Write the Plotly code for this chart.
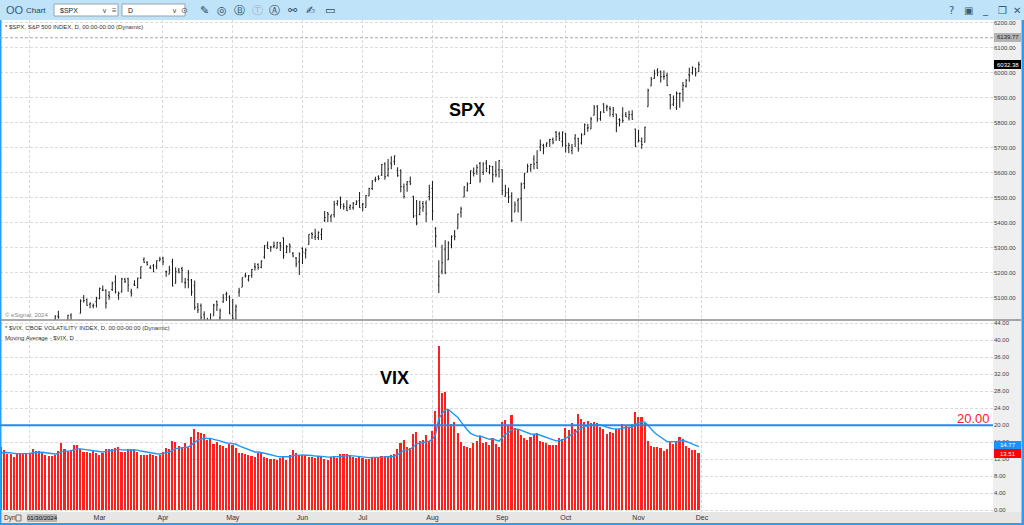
import pandas as pd
import plotly.graph_objects as go

# ---- data: S&P 500 daily bars and VIX closes, 17 Jan - 29 Nov 2024 ----
holidays = ["2024-02-19", "2024-03-29", "2024-05-27", "2024-06-19",
            "2024-07-04", "2024-09-02", "2024-11-28"]
days = pd.bdate_range("2024-01-17", "2024-11-29")
days = days[~days.isin(pd.to_datetime(holidays))]
dates = days.strftime("%Y-%m-%d").tolist()

spx_open = [
    4739, 4760, 4797, 4853, 4856, 4888, 4886, 4888, 4892, 4925, 4899,
    4861, 4916, 4957, 4951, 4974, 4995, 5004, 5026, 4967, 4976, 5004, 5031, 4989, 4963, 5038, 5100, 5093, 5074, 5068, 5085,
    5098, 5131, 5130, 5109, 5133, 5164, 5111, 5124, 5174, 5176, 5124, 5154, 5140, 5181, 5253, 5242, 5220, 5228, 5226, 5248,
    5257, 5204, 5194, 5244, 5158, 5211, 5217, 5160, 5172, 5171, 5149, 5064, 5068, 5032, 5005, 4988, 5028, 5085, 5020, 5084, 5114, 5103,
    5029, 5050, 5122, 5142, 5187, 5172, 5189, 5225, 5233, 5222, 5263, 5310, 5303, 5305, 5298, 5319, 5340, 5281, 5315, 5278, 5259, 5244,
    5297, 5278, 5314, 5357, 5343, 5341, 5353, 5409, 5441, 5424, 5432, 5477, 5499, 5466, 5459, 5461, 5460, 5473, 5488,
    5471, 5461, 5507, 5537, 5572, 5584, 5591, 5635, 5590, 5638, 5644, 5610, 5609, 5543, 5554, 5565, 5505, 5428, 5433, 5477, 5479, 5505,
    5537, 5376, 5151, 5206, 5294, 5252, 5312, 5351, 5376, 5442, 5503, 5530, 5557, 5603, 5606, 5637, 5602, 5639, 5602, 5624, 5607, 5612,
    5612, 5506, 5520, 5507, 5443, 5490, 5496, 5557, 5603, 5615, 5655, 5641, 5703, 5709, 5711, 5727, 5733, 5762, 5755, 5726,
    5757, 5699, 5689, 5738, 5738, 5719, 5752, 5778, 5775, 5830, 5866, 5816, 5875, 5860, 5857, 5833, 5835, 5813, 5827, 5833, 5819, 5832, 5775,
    5723, 5725, 5722, 5864, 5947, 5977, 6008, 6004, 5985, 5989, 5912, 5874, 5860, 5917, 5933, 5946, 5992, 6000, 6015, 6004,
]
spx_high = [
    4744, 4785, 4842, 4868, 4866, 4903, 4898, 4906, 4929, 4932, 4907,
    4907, 4975, 4965, 4964, 4999, 5000, 5030, 5048, 4971, 5002, 5032, 5038, 4993, 4983, 5094, 5111, 5097, 5081, 5077, 5104,
    5141, 5149, 5134, 5127, 5165, 5190, 5125, 5180, 5180, 5180, 5136, 5170, 5180, 5225, 5262, 5246, 5230, 5235, 5249, 5264,
    5264, 5208, 5228, 5256, 5222, 5219, 5224, 5179, 5211, 5175, 5169, 5079, 5077, 5046, 5020, 5038, 5076, 5089, 5057, 5115, 5124, 5110,
    5096, 5073, 5140, 5181, 5200, 5191, 5215, 5239, 5238, 5250, 5311, 5325, 5306, 5325, 5324, 5323, 5341, 5311, 5316, 5283, 5263, 5281,
    5302, 5298, 5354, 5362, 5376, 5366, 5376, 5447, 5442, 5432, 5488, 5490, 5505, 5478, 5490, 5473, 5483, 5490, 5523,
    5479, 5510, 5540, 5570, 5584, 5590, 5635, 5642, 5655, 5666, 5669, 5622, 5614, 5557, 5566, 5585, 5508, 5491, 5488, 5487, 5489, 5552,
    5567, 5383, 5250, 5312, 5330, 5326, 5350, 5371, 5436, 5464, 5546, 5562, 5609, 5621, 5633, 5643, 5642, 5651, 5631, 5628, 5646, 5651,
    5614, 5552, 5540, 5522, 5485, 5497, 5561, 5600, 5636, 5636, 5670, 5690, 5733, 5716, 5722, 5736, 5741, 5767, 5764, 5765,
    5758, 5720, 5715, 5753, 5739, 5758, 5797, 5796, 5823, 5871, 5870, 5846, 5878, 5872, 5866, 5863, 5835, 5818, 5862, 5843, 5848, 5850, 5776,
    5772, 5741, 5784, 5936, 5983, 6012, 6018, 6009, 6009, 6000, 5915, 5909, 5925, 5921, 5963, 5975, 6020, 6025, 6020, 6044,
]
spx_low = [
    4714, 4740, 4785, 4844, 4844, 4865, 4869, 4881, 4887, 4917, 4845,
    4853, 4907, 4918, 4939, 4969, 4988, 4999, 5016, 4920, 4956, 4999, 4999, 4955, 4946, 5038, 5081, 5069, 5058, 5058, 5061,
    5094, 5127, 5057, 5092, 5127, 5117, 5092, 5121, 5159, 5124, 5105, 5147, 5138, 5175, 5240, 5229, 5215, 5203, 5214, 5246,
    5230, 5184, 5194, 5146, 5157, 5198, 5160, 5138, 5138, 5108, 5052, 5039, 5007, 4998, 4953, 4970, 5028, 5047, 5002, 5080, 5087, 5035,
    5013, 5011, 5104, 5143, 5181, 5165, 5180, 5209, 5212, 5218, 5256, 5296, 5284, 5298, 5297, 5287, 5256, 5278, 5280, 5262, 5223, 5191,
    5235, 5257, 5312, 5335, 5331, 5331, 5331, 5403, 5403, 5403, 5421, 5468, 5456, 5452, 5447, 5451, 5452, 5471, 5460,
    5446, 5461, 5507, 5531, 5563, 5570, 5587, 5572, 5584, 5614, 5631, 5584, 5522, 5497, 5524, 5551, 5419, 5390, 5430, 5444, 5403, 5489,
    5410, 5302, 5119, 5194, 5195, 5251, 5298, 5330, 5376, 5421, 5502, 5525, 5555, 5585, 5592, 5560, 5591, 5603, 5594, 5561, 5583, 5581,
    5511, 5504, 5479, 5403, 5443, 5441, 5406, 5535, 5601, 5604, 5614, 5616, 5686, 5674, 5703, 5703, 5714, 5727, 5727, 5704,
    5681, 5678, 5674, 5703, 5684, 5713, 5751, 5764, 5775, 5830, 5804, 5808, 5840, 5846, 5825, 5822, 5762, 5785, 5800, 5823, 5809, 5812, 5703,
    5723, 5696, 5722, 5864, 5947, 5976, 5986, 5961, 5972, 5946, 5853, 5866, 5851, 5860, 5884, 5941, 5964, 5992, 5985, 6003,
]
spx_close = [
    4739.2, 4780.9, 4839.8, 4850.4, 4864.6, 4868.6, 4894.2, 4891.0, 4927.9, 4925.0, 4845.7,
    4906.2, 4958.6, 4942.8, 4954.2, 4995.1, 4997.9, 5026.6, 5021.8, 4953.2, 5000.6, 5029.7, 5005.6, 4975.5, 4981.8, 5087.0, 5088.8, 5069.5, 5078.2, 5069.8, 5096.3,
    5137.1, 5131.0, 5078.7, 5104.8, 5157.4, 5123.7, 5117.9, 5175.3, 5165.3, 5150.5, 5117.1, 5149.4, 5178.5, 5224.6, 5241.5, 5234.2, 5218.2, 5203.6, 5248.5, 5254.4,
    5243.8, 5205.8, 5211.5, 5147.2, 5204.3, 5202.4, 5209.9, 5160.6, 5199.1, 5123.4, 5061.8, 5051.4, 5022.2, 5011.1, 4967.2, 5010.6, 5070.6, 5071.6, 5048.4, 5100.0, 5116.2, 5035.7,
    5018.4, 5064.2, 5127.8, 5180.7, 5187.7, 5187.7, 5214.1, 5222.7, 5221.4, 5246.7, 5308.2, 5297.1, 5303.3, 5308.1, 5321.4, 5307.0, 5267.8, 5304.7, 5306.0, 5267.0, 5235.5, 5277.5,
    5283.4, 5291.3, 5354.0, 5353.0, 5347.0, 5360.8, 5375.3, 5421.0, 5433.7, 5431.6, 5473.2, 5487.0, 5473.2, 5464.6, 5447.9, 5469.3, 5477.9, 5482.9, 5460.5,
    5475.1, 5509.0, 5537.0, 5567.2, 5572.9, 5577.0, 5633.9, 5584.5, 5615.4, 5631.2, 5667.2, 5588.3, 5544.6, 5505.0, 5564.4, 5555.7, 5427.1, 5399.2, 5459.1, 5463.5, 5436.4, 5522.3,
    5446.7, 5346.6, 5186.3, 5240.0, 5199.5, 5319.3, 5344.2, 5344.4, 5434.4, 5455.2, 5543.2, 5554.3, 5608.3, 5597.1, 5620.9, 5570.6, 5634.6, 5616.8, 5625.8, 5592.2, 5592.0, 5648.4,
    5528.9, 5520.1, 5503.4, 5408.4, 5471.1, 5495.5, 5554.1, 5595.8, 5626.0, 5633.1, 5634.6, 5618.3, 5713.6, 5702.6, 5718.6, 5732.9, 5722.3, 5745.4, 5738.2, 5762.5,
    5708.8, 5709.5, 5699.9, 5751.1, 5695.9, 5751.1, 5792.0, 5780.1, 5815.0, 5859.9, 5815.3, 5842.5, 5841.5, 5864.7, 5854.0, 5851.2, 5797.4, 5809.9, 5808.1, 5823.5, 5832.9, 5813.7, 5705.5,
    5728.8, 5712.7, 5782.8, 5929.0, 5973.1, 5995.5, 6001.4, 5984.0, 5985.4, 5949.2, 5870.6, 5893.6, 5917.0, 5917.1, 5948.7, 5969.3, 5987.4, 6021.6, 5998.7, 6032.38,
]

# VIX closes before the visible window (3-16 Jan), only used to seed the average
vix_warmup = [14.04, 14.13, 13.35, 13.08, 12.76, 12.69, 12.44, 12.70, 13.84]
vix_close = [
    14.79, 14.13, 13.30, 13.19, 12.55, 13.14, 13.45, 13.26, 13.60, 13.31, 14.35,
    13.88, 13.85, 13.67, 13.06, 12.83, 12.79, 12.93, 13.93, 15.85, 14.38, 14.01, 14.24, 15.42, 15.34, 14.54, 13.75, 13.74, 13.43, 13.84, 13.40,
    13.11, 13.49, 14.46, 14.50, 14.44, 14.74, 15.01, 13.75, 13.75, 14.40, 14.41, 14.33, 13.82, 12.92, 13.06, 12.92, 13.19, 12.94, 12.78, 13.01,
    13.65, 14.61, 14.33, 16.35, 16.03, 15.19, 14.98, 15.80, 14.91, 17.31, 19.23, 18.40, 18.21, 18.00, 16.44, 16.94, 15.69, 15.97, 15.37, 15.03, 14.67, 15.65,
    15.39, 14.68, 13.49, 13.49, 13.23, 13.00, 12.69, 12.55, 13.60, 13.42, 12.45, 12.42, 11.99, 12.15, 11.86, 12.29, 12.77, 11.93, 12.92, 14.28, 13.49, 12.92,
    13.11, 13.06, 12.63, 12.58, 12.22, 12.74, 12.85, 12.04, 11.94, 12.66, 12.75, 12.30, 13.28, 13.20, 13.33, 12.84, 12.55, 12.24, 12.44,
    12.22, 12.03, 12.09, 12.48, 12.37, 12.51, 12.85, 12.89, 12.46, 13.12, 13.19, 14.48, 15.93, 16.52, 14.91, 14.72, 18.04, 18.46, 16.39, 16.60, 17.69, 16.36,
    18.59, 23.39, 38.57, 27.71, 27.85, 23.79, 20.37, 20.71, 18.12, 16.19, 15.23, 14.80, 14.65, 15.88, 16.27, 17.55, 15.86, 16.15, 15.43, 17.11, 15.65, 15.00,
    20.72, 21.32, 19.90, 22.38, 19.45, 19.08, 17.69, 17.07, 16.56, 17.14, 17.61, 18.23, 16.33, 16.15, 15.89, 15.39, 15.41, 15.37, 16.96, 16.73,
    19.26, 18.90, 20.49, 19.21, 22.64, 21.42, 20.86, 20.93, 20.46, 20.70, 20.64, 19.58, 19.11, 18.03, 18.37, 18.20, 19.24, 19.08, 20.33, 19.80, 19.34, 20.35, 23.16,
    21.88, 21.98, 20.49, 16.27, 15.20, 14.94, 14.97, 14.71, 14.02, 14.31, 16.14, 15.58, 16.35, 17.16, 16.87, 15.24, 14.60, 14.10, 14.10, 13.51,
]
vix_level = 20.0
cursor_date = "2024-01-30"
month_labels = ["Mar", "Apr", "May", "Jun", "Jul", "Aug", "Sep", "Oct", "Nov", "Dec"]

assert len(dates) == len(spx_close) == len(spx_open) == len(spx_high) == len(spx_low) == len(vix_close)

idx = list(range(len(dates)))
vix_ma = pd.Series(vix_warmup + vix_close).ewm(span=10, adjust=False).mean().tolist()[len(vix_warmup):]

# first bar of each month (Dec = the slot after the last bar)
month_idx = [int(days.get_indexer([days[days.month == m][0]])[0]) for m in range(3, 12)] + [len(dates)]
grid_idx = [dates.index(cursor_date)] + month_idx[1:]

W, H = 1024, 525
FONT = "Liberation Sans, Arial, sans-serif"


def px(x):
    return x / W


def py(y):
    return 1 - y / H


X_RANGE = [-0.41, 312.8]
X_END = px(993)

shapes = []
annotations = []


def rect(x0, y0, x1, y1, fill, line=None, layer="below"):
    shapes.append(dict(type="rect", xref="paper", yref="paper", x0=px(x0), x1=px(x1),
                       y0=py(y1), y1=py(y0), fillcolor=fill, layer=layer,
                       line=dict(width=1 if line else 0, color=line or fill)))


def text(x, y, s, size=6, color="#333", anchor="left", bold=False, family=FONT):
    annotations.append(dict(xref="paper", yref="paper", x=px(x), y=py(y), text=s, showarrow=False,
                            xanchor=anchor, yanchor="middle",
                            font=dict(size=size, color=color, family=family,
                                      weight="bold" if bold else "normal")))


fig = go.Figure()

fig.add_trace(go.Ohlc(
    x=idx, open=spx_open, high=spx_high, low=spx_low, close=spx_close,
    increasing_line_color="#1a1a1a", decreasing_line_color="#1a1a1a",
    line_width=1, tickwidth=0.3, xaxis="x", yaxis="y", hoverinfo="skip",
))
fig.add_trace(go.Bar(
    x=idx, y=vix_close, width=0.5, marker_color="#ff2020", marker_line_width=0,
    xaxis="x2", yaxis="y2", hoverinfo="skip",
))
fig.add_trace(go.Scatter(
    x=idx, y=vix_ma, mode="lines", line=dict(color="#2196f3", width=1.4),
    xaxis="x2", yaxis="y2", hoverinfo="skip",
))

# backgrounds: toolbar, price scale, date strip, blue frame
rect(0, 0, 1024, 20, "#bfe3f8")
rect(993, 20, 1022, 512, "#efefef")
rect(0, 512, 1022, 523, "#e6e6e6")
rect(0, 20, 1.5, 525, "#2a9df4", layer="above")
rect(1021.5, 20, 1024, 525, "#2a9df4", layer="above")
rect(0, 523, 1024, 525, "#2a9df4", layer="above")

# panel separator
shapes.append(dict(type="line", xref="paper", yref="paper", x0=0, x1=px(1021), y0=py(320), y1=py(320),
                   line=dict(color="#8c8c8c", width=1.5), layer="above"))
# reference lines
shapes.append(dict(type="line", xref="paper", yref="y", x0=0, x1=X_END, y0=6139.77, y1=6139.77,
                   line=dict(color="#a8a8a8", width=1, dash="3px,2px"), layer="above"))
shapes.append(dict(type="line", xref="paper", yref="y2", x0=0, x1=X_END, y0=vix_level, y1=vix_level,
                   line=dict(color="#1e8cf0", width=2), layer="above"))

# toolbar
text(4, 10, "OO", size=11, color="#3c5a78")
text(24, 10, "Chart", size=8, color="#2e3e50")
rect(54, 4, 118, 16, "#ffffff", line="#9aa4ad", layer="above")
text(58, 10, "$SPX", size=7, color="#222")
text(100, 10, "∨", size=7, color="#555")
text(110, 10, "≡", size=8, color="#555")
rect(122, 4, 185, 16, "#ffffff", line="#9aa4ad", layer="above")
text(126, 10, "D", size=7, color="#222")
text(170, 10, "∨", size=7, color="#555")
text(179, 10, "⊙", size=8, color="#555")
for xi, glyph, col in [(198, "✎", "#2b4a66"), (215, "◎", "#2b4a66"), (232, "Ⓑ", "#2b4a66"),
                       (250, "Ⓣ", "#9fb6c8"), (267, "Ⓐ", "#2b4a66"), (286, "⚯", "#2b4a66"),
                       (304, "✍", "#2b4a66"), (323, "▭", "#2b4a66")]:
    text(xi, 10, glyph, size=11, color=col, family="DejaVu Sans")
for xi, glyph in [(947, "?"), (962, "▣"), (980, "_"), (996, "❐"), (1011, "✕")]:
    text(xi, 10, glyph, size=10, color="#3c5a78", family="DejaVu Sans")

# panel captions
text(3, 27, "* $SPX, S&P 500 INDEX, D, 00:00-00:00 (Dynamic)", size=6, color="#333")
text(3, 315, "© eSignal, 2024", size=6, color="#888")
text(3, 328, "* $VIX, CBOE VOLATILITY INDEX, D, 00:00-00:00 (Dynamic)", size=6, color="#333")
text(3, 338, "Moving Average - $VIX, D", size=6, color="#333")
text(467, 110, "SPX", size=18, color="#000", anchor="center", bold=True)
text(394, 378, "VIX", size=18, color="#000", anchor="center", bold=True)
text(992, 418, "20.00", size=13, color="#ff2020", anchor="right")

# price-scale value boxes (the MA box sits partly under the close box)
for y0, y1, fill, label, col in [(33, 42, "#b4b4b4", "6139.77", "#222"),
                                 (60, 69, "#000000", "6032.38", "#ffffff"),
                                 (441, 449, "#1e90ff", "14.77", "#ffffff"),
                                 (449, 458, "#ff0000", "13.51", "#ffffff")]:
    rect(994, y0, 1021, y1, fill, layer="above")
    text(1007.5, (y0 + y1) / 2, label, size=6, color=col, anchor="center")

# date strip extras
text(2, 518, "Dyn", size=6.5, color="#333")
rect(16, 515, 21, 521, "#e6e6e6", line="#777", layer="above")
rect(27, 514, 57, 522, "#b4b4b4", layer="above")
text(42, 518, "01/30/2024", size=6, color="#111", anchor="center")

grid = dict(color="#dadada", dash="3px,2px")
xbase = dict(range=X_RANGE, domain=[0, X_END], tickvals=month_idx, ticktext=month_labels,
             showgrid=False, zeroline=False, showline=False, ticks="",
             minor=dict(tickvals=grid_idx, showgrid=True, gridcolor=grid["color"], griddash=grid["dash"], gridwidth=1),
             rangeslider=dict(visible=False), fixedrange=True)

fig.update_layout(
    width=W, height=H,
    margin=dict(l=0, r=0, t=0, b=0),
    paper_bgcolor="#ffffff", plot_bgcolor="#ffffff",
    showlegend=False, hovermode=False,
    font=dict(family=FONT, size=6, color="#333"),
    xaxis=dict(xbase, anchor="y", showticklabels=False),
    xaxis2=dict(xbase, anchor="y2", matches="x", showticklabels=True,
                tickfont=dict(size=7, color="#333")),
    yaxis=dict(domain=[py(320), py(20)], range=[5011.2, 6210.8], anchor="x", side="right",
               dtick=100, tick0=5000, tickformat=".2f", showgrid=True, gridcolor=grid["color"],
               griddash=grid["dash"], zeroline=False, ticks="", tickfont=dict(size=6, color="#444"),
               fixedrange=True),
    yaxis2=dict(domain=[py(512), py(320)], range=[-0.4, 44.78], anchor="x2", side="right",
                dtick=4, tick0=0, tickformat=".2f", showgrid=True, gridcolor=grid["color"],
                griddash=grid["dash"], zeroline=False, ticks="", tickfont=dict(size=6, color="#444"),
                fixedrange=True),
    bargap=0,
    shapes=shapes,
    annotations=annotations,
)

# page body margin would push the 1024x525 chart off the window
fig.write_html("out.html", config={"displayModeBar": False},
               post_script="document.body.style.margin='0';document.body.style.overflow='hidden';")
